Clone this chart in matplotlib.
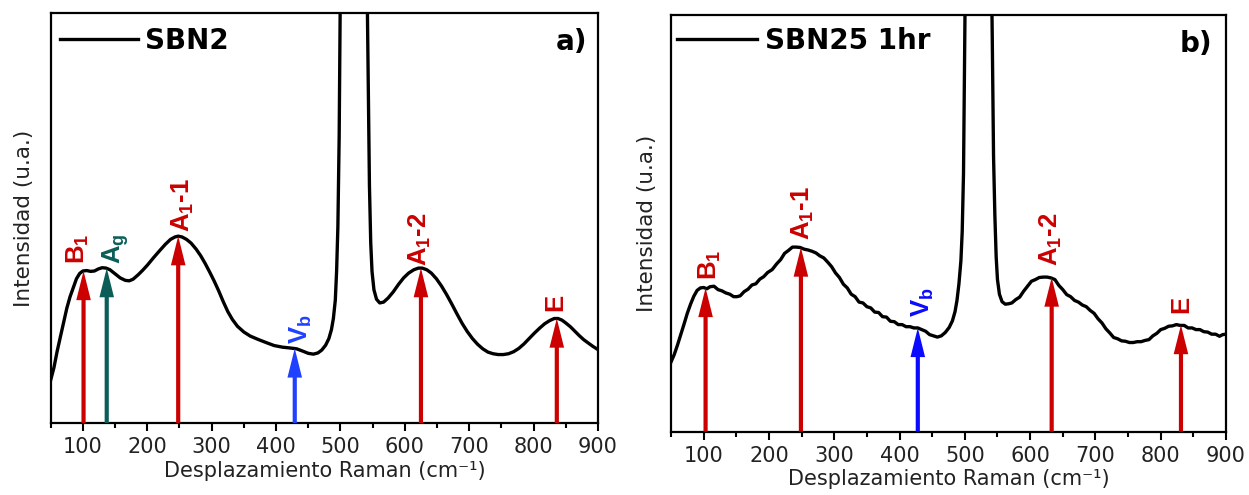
import matplotlib
matplotlib.use("Agg")
import matplotlib.pyplot as plt
from matplotlib.patches import ArrowStyle

plt.rcParams["font.family"] = ["DejaVu Sans"]
plt.rcParams["mathtext.fontset"] = "custom"
plt.rcParams["mathtext.rm"] = "Liberation Sans:bold"
plt.rcParams["mathtext.it"] = "Liberation Sans:bold"
plt.rcParams["mathtext.bf"] = "Liberation Sans:bold"

# ---- Raman spectrum, SBN2 (relative intensity, % of plotted range) ----
sbn2_shift = [50, 55, 60, 65, 70, 75, 80, 85, 90, 95, 100, 106, 112, 118, 124, 130,
              136, 142, 150, 158, 166, 172, 178, 186, 193, 200, 210, 220, 228, 236,
              243, 248, 254, 261, 268, 276, 283, 290, 297, 304, 311, 318, 325, 332,
              340, 350, 360, 372, 385, 397, 410, 422, 432, 442, 450, 458, 465, 471,
              477, 482, 486, 489, 492, 494, 496, 498, 500, 505, 512, 520, 528, 535,
              540, 543, 545, 547, 549, 552, 556, 561, 567, 574, 582, 590, 598, 606,
              614, 621, 627, 634, 641, 649, 657, 665, 673, 681, 689, 697, 705, 713,
              721, 729, 737, 745, 753, 761, 769, 777, 785, 793, 801, 809, 817, 825,
              832, 838, 844, 850, 857, 864, 871, 878, 885, 892, 900]
sbn2_int = [10.5, 13.5, 17.5, 21.0, 24.5, 28.0, 30.8, 33.0, 35.2, 36.5, 37.1, 37.2,
            37.0, 37.1, 37.6, 37.9, 37.8, 37.4, 36.4, 35.4, 34.8, 34.7, 35.1, 36.2,
            37.3, 38.5, 40.4, 42.2, 43.6, 44.8, 45.4, 45.6, 45.4, 44.8, 43.9, 42.4,
            40.8, 38.9, 36.8, 34.6, 32.2, 29.6, 27.2, 25.3, 23.6, 22.2, 21.2, 20.4,
            19.6, 18.9, 18.5, 18.3, 18.1, 17.5, 17.0, 16.8, 17.1, 17.8, 19.0, 20.6,
            22.8, 25.5, 30.0, 37.0, 48.0, 70.0, 110.0, 190.0, 250.0, 270.0, 250.0,
            190.0, 125.0, 85.0, 58.0, 44.0, 37.0, 32.5, 30.2, 29.3, 29.5, 30.5, 32.0,
            33.8, 35.4, 36.6, 37.4, 37.8, 37.8, 37.4, 36.6, 35.2, 33.4, 31.3, 29.0,
            26.6, 24.3, 22.3, 20.6, 19.2, 18.1, 17.3, 16.9, 16.7, 16.7, 16.9, 17.4,
            18.2, 19.3, 20.6, 21.9, 23.1, 24.2, 25.0, 25.5, 25.5, 25.1, 24.4, 23.5,
            22.4, 21.3, 20.3, 19.5, 18.7, 17.9]

# ---- Raman spectrum, SBN25 1hr ----
sbn25_shift = [50, 55, 60, 65, 70, 75, 80, 85, 90, 95, 100, 105, 110, 116, 122, 128,
               134, 140, 146, 151, 156, 162, 168, 174, 180, 186, 192, 198, 205, 212,
               218, 224, 230, 236, 242, 248, 254, 260, 266, 272, 278, 284, 290, 296,
               302, 308, 314, 320, 326, 332, 338, 344, 350, 356, 362, 368, 374, 380,
               386, 392, 398, 404, 410, 416, 422, 428, 434, 440, 446, 452, 458, 464,
               470, 476, 481, 485, 488, 491, 494, 496, 498, 500, 503, 510, 520, 530,
               536, 540, 542, 544, 546, 548, 550, 553, 557, 562, 567, 572, 578, 584,
               590, 596, 602, 608, 614, 620, 626, 632, 638, 644, 650, 656, 662, 668,
               674, 680, 686, 692, 698, 704, 710, 716, 722, 728, 734, 740, 746, 752,
               758, 764, 770, 776, 782, 788, 794, 800, 806, 812, 818, 824, 830, 836,
               842, 848, 854, 860, 866, 872, 878, 884, 890, 895, 900]
sbn25_int = [16.7, 18.5, 20.8, 23.3, 25.8, 28.4, 30.6, 32.5, 33.9, 34.5, 34.6, 34.3,
             34.8, 34.9, 34.1, 33.8, 33.3, 33.0, 32.4, 32.4, 32.6, 33.6, 34.2, 35.2,
             35.5, 36.6, 37.2, 38.2, 38.9, 40.3, 41.3, 42.8, 43.5, 44.3, 44.3, 44.2,
             43.8, 43.6, 43.3, 42.9, 42.2, 41.7, 40.7, 39.6, 38.1, 37.0, 35.4, 34.5,
             33.0, 32.4, 31.1, 30.9, 30.0, 29.7, 28.7, 28.6, 27.6, 27.5, 26.5, 26.4,
             25.7, 25.7, 25.2, 25.2, 24.9, 24.9, 24.5, 24.1, 23.3, 23.0, 22.7, 23.0,
             23.8, 25.0, 26.6, 28.8, 31.5, 35.5, 41.0, 48.0, 62.0, 95.0, 150.0, 230.0,
             260.0, 230.0, 170.0, 120.0, 95.0, 66.0, 52.0, 42.0, 36.5, 33.0, 31.2,
             30.6, 30.7, 30.9, 31.7, 32.3, 33.7, 34.9, 36.1, 36.5, 37.0, 37.1, 37.1,
             36.9, 36.5, 35.1, 34.1, 32.9, 32.4, 31.5, 31.1, 30.4, 30.0, 29.1, 28.4,
             27.1, 26.1, 24.7, 23.7, 22.6, 22.3, 21.8, 21.7, 21.4, 21.4, 21.6, 21.6,
             21.9, 22.1, 23.0, 23.6, 24.5, 24.8, 25.3, 25.4, 25.7, 25.5, 25.5, 24.9,
             24.9, 24.5, 24.5, 24.0, 23.9, 23.4, 23.4, 22.9, 23.3, 23.4]

# ---- Band assignments: position, intensity at arrow tip, label placement ----
RED, TEAL, BLUE_A, BLUE_B = "#cc0000", "#0b5e58", "#1f40ff", "#0a0aff"

a_labels = [r"B$_\mathregular{1}$", r"A$_\mathregular{g}$", r"A$_\mathregular{1}$-1",
            r"V$_\mathregular{b}$", r"A$_\mathregular{1}$-2", "E"]
a_pos = [101, 137, 248, 429, 625, 836]
a_tip = [37.1, 37.8, 45.6, 18.2, 37.8, 25.5]
a_label_x = [93, 151, 256, 438, 623, 834]
a_label_y = [38.8, 38.8, 46.6, 19.2, 38.4, 27.4]
a_colors = [RED, TEAL, RED, BLUE_A, RED, RED]

b_labels = [r"B$_\mathregular{1}$", r"A$_\mathregular{1}$-1", r"V$_\mathregular{b}$",
            r"A$_\mathregular{1}$-2", "E"]
b_pos = [103, 249, 428, 633, 831]
b_tip = [34.5, 44.2, 24.9, 37.0, 25.6]
b_label_x = [110, 252, 436, 632, 832]
b_label_y = [36.4, 46.1, 27.6, 39.7, 28.4]
b_colors = [RED, RED, BLUE_B, RED, RED]

x_ticks = [100, 200, 300, 400, 500, 600, 700, 800, 900]
x_minor = [50, 150, 250, 350, 450, 550, 650, 750, 850]

fig = plt.figure(figsize=(12.49, 4.95), dpi=100)
ax_a = fig.add_axes([0.0406, 0.1455, 0.4382, 0.8277])
ax_b = fig.add_axes([0.5372, 0.1279, 0.4444, 0.8418])

TXT = "#222222"


def draw_panel(ax, shift, inten, name, tag, labels, pos, tip, lx, ly, colors,
               leg_anchor, handlelen, textpad, ylab_x, xlab_y, tag_xy):
    ax.plot(shift, inten, color="black", lw=2.4, label=name, zorder=2,
            solid_joinstyle="round")
    ax.set_xlim(50, 900)
    ax.set_ylim(0, 100)
    ax.set_yticks([])
    ax.set_xticks(x_ticks)
    ax.set_xticks(x_minor, minor=True)
    ax.tick_params(axis="x", which="major", direction="out", length=6, width=1.5,
                   pad=4, labelsize=15, labelcolor=TXT)
    ax.tick_params(axis="x", which="minor", direction="out", length=3.5, width=1.5)
    for s in ax.spines.values():
        s.set_linewidth(1.6)

    style = ArrowStyle.Simple(head_length=21, head_width=10.5, tail_width=3.0)
    for p, t, c in zip(pos, tip, colors):
        ax.annotate("", xy=(p, t), xytext=(p, 0),
                    arrowprops=dict(arrowstyle=style, mutation_scale=1, lw=0,
                                    color=c, shrinkA=0, shrinkB=0),
                    zorder=3)
    for txt, x, y, c in zip(labels, lx, ly, colors):
        ax.text(x, y, txt, rotation=90, ha="center", va="bottom", color=c,
                fontsize=18.5, family="Liberation Sans", fontweight="bold",
                zorder=4)

    ax.legend(loc="upper left", bbox_to_anchor=leg_anchor, borderaxespad=0,
              borderpad=0, frameon=False, handlelength=handlelen,
              handletextpad=textpad,
              prop=dict(family="DejaVu Sans", weight="bold", size=20))
    ax.text(tag_xy[0], tag_xy[1], tag, transform=ax.transAxes, ha="right",
            va="center", fontsize=20, fontweight="bold", color="black")

    ax.set_ylabel("Intensidad (u.a.)", fontsize=15.5, color=TXT)
    ax.yaxis.set_label_coords(ylab_x, 0.5)
    ax.set_xlabel("Desplazamiento Raman (cm⁻¹)", fontsize=15, color=TXT)
    ax.xaxis.set_label_coords(0.5, xlab_y)


draw_panel(ax_a, sbn2_shift, sbn2_int, "SBN2", "a)", a_labels, a_pos, a_tip,
           a_label_x, a_label_y, a_colors, (0.017, 0.967), 2.8, 0.25,
           -0.03, -0.092, (0.98, 0.931))
draw_panel(ax_b, sbn25_shift, sbn25_int, "SBN25 1hr", "b)", b_labels, b_pos, b_tip,
           b_label_x, b_label_y, b_colors, (0.0103, 0.971), 2.88, 0.3,
           -0.025, -0.09, (0.975, 0.93))

fig.savefig("out.png", dpi=100)
